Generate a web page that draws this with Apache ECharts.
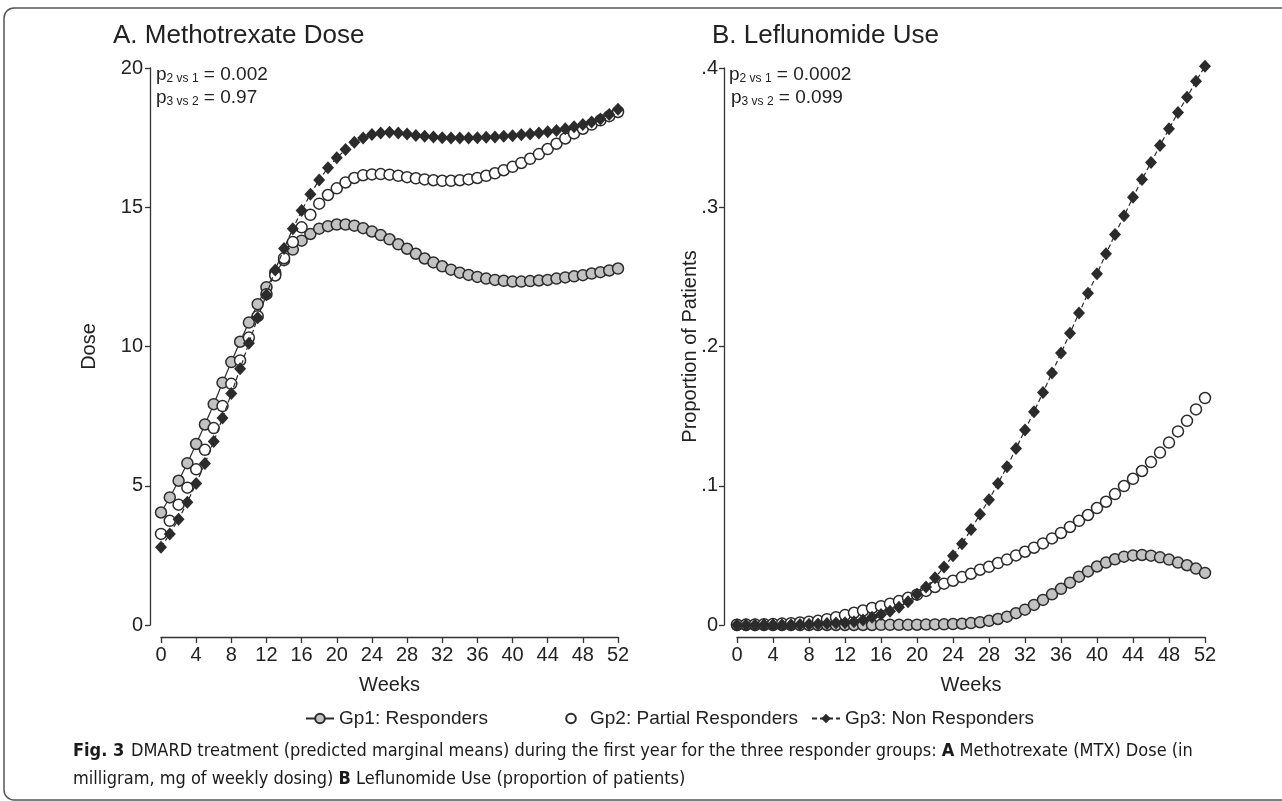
<!DOCTYPE html>
<html>
<head>
<meta charset="utf-8">
<title>DMARD treatment by responder group</title>
<script src="https://cdn.jsdelivr.net/npm/echarts@6/dist/echarts.min.js"></script>
<style>
  html, body { margin: 0; padding: 0; background: #fff; }
  #chart { width: 1282px; height: 801px; }
</style>
</head>
<body>
<div id="chart"></div>
<script>
  // weeks (x axis)
  const weeks = [0, 1, 2, 3, 4, 5, 6, 7, 8, 9, 10, 11, 12, 13, 14, 15, 16, 17, 18, 19, 20,
    21, 22, 23, 24, 25, 26, 27, 28, 29, 30, 31, 32, 33, 34, 35, 36, 37, 38, 39, 40,
    41, 42, 43, 44, 45, 46, 47, 48, 49, 50, 51, 52];

  // A. Methotrexate dose (mg)
  const mtxGp1 = [4.04, 4.58, 5.18, 5.81, 6.50, 7.20, 7.93, 8.70, 9.44, 10.17, 10.86,
    11.52, 12.13, 12.63, 13.10, 13.48, 13.80, 14.04, 14.23, 14.32, 14.38,
    14.38, 14.34, 14.25, 14.13, 14.00, 13.85, 13.67, 13.51, 13.33, 13.16,
    13.02, 12.88, 12.76, 12.65, 12.57, 12.50, 12.44, 12.39, 12.36, 12.33,
    12.33, 12.35, 12.37, 12.39, 12.44, 12.48, 12.52, 12.56, 12.62, 12.67, 12.73, 12.80];
  const mtxGp2 = [3.27, 3.74, 4.32, 4.93, 5.59, 6.29, 7.07, 7.86, 8.66, 9.50, 10.32,
    11.09, 11.88, 12.55, 13.17, 13.75, 14.28, 14.73, 15.13, 15.44, 15.68,
    15.89, 16.05, 16.15, 16.18, 16.19, 16.17, 16.13, 16.08, 16.04, 16.00,
    15.97, 15.95, 15.95, 15.97, 16.00, 16.05, 16.13, 16.22, 16.33, 16.45,
    16.59, 16.74, 16.91, 17.09, 17.28, 17.47, 17.65, 17.82, 17.97, 18.12, 18.27, 18.42];
  const mtxGp3 = [2.79, 3.27, 3.80, 4.41, 5.08, 5.80, 6.59, 7.43, 8.31, 9.20, 10.12,
    11.03, 11.86, 12.75, 13.52, 14.23, 14.88, 15.47, 15.98, 16.42, 16.78,
    17.07, 17.33, 17.49, 17.61, 17.67, 17.69, 17.67, 17.63, 17.58, 17.55,
    17.52, 17.50, 17.49, 17.49, 17.49, 17.50, 17.51, 17.52, 17.55, 17.57,
    17.60, 17.63, 17.67, 17.71, 17.76, 17.82, 17.89, 17.97, 18.06, 18.17, 18.33, 18.52];

  // B. Leflunomide use (proportion of patients)
  const lefGp1 = [0.0000, 0.0000, 0.0000, 0.0000, 0.0000, 0.0000, 0.0000, 0.0000, 0.0000, 0.0000, 0.0000,
    0.0000, 0.0000, 0.0000, 0.0000, 0.0000, 0.0001, 0.0001, 0.0001, 0.0001, 0.0002,
    0.0003, 0.0004, 0.0005, 0.0007, 0.0009, 0.0014, 0.0020, 0.0030, 0.0043, 0.0060,
    0.0085, 0.0110, 0.0144, 0.0180, 0.0220, 0.0260, 0.0304, 0.0347, 0.0385, 0.0420,
    0.0448, 0.0472, 0.0491, 0.0500, 0.0503, 0.0498, 0.0486, 0.0470, 0.0448, 0.0429, 0.0405, 0.0374];
  const lefGp2 = [0.0002, 0.0003, 0.0004, 0.0006, 0.0008, 0.0010, 0.0013, 0.0018, 0.0024, 0.0030, 0.0042,
    0.0055, 0.0071, 0.0088, 0.0104, 0.0122, 0.0135, 0.0153, 0.0172, 0.0195, 0.0218,
    0.0245, 0.0273, 0.0297, 0.0318, 0.0344, 0.0368, 0.0397, 0.0418, 0.0445, 0.0470,
    0.0500, 0.0526, 0.0555, 0.0586, 0.0622, 0.0661, 0.0704, 0.0748, 0.0790, 0.0840,
    0.0885, 0.0940, 0.0998, 0.1050, 0.1106, 0.1170, 0.1238, 0.1310, 0.1390, 0.1466, 0.1548, 0.1630];
  const lefGp3 = [0.0000, 0.0000, 0.0000, 0.0001, 0.0001, 0.0002, 0.0002, 0.0003, 0.0005, 0.0007, 0.0010,
    0.0014, 0.0017, 0.0024, 0.0036, 0.0055, 0.0076, 0.0098, 0.0127, 0.0167, 0.0220,
    0.0272, 0.0340, 0.0416, 0.0498, 0.0584, 0.0685, 0.0796, 0.0900, 0.1017, 0.1137,
    0.1267, 0.1400, 0.1532, 0.1670, 0.1810, 0.1953, 0.2096, 0.2240, 0.2382, 0.2522,
    0.2666, 0.2804, 0.2939, 0.3071, 0.3200, 0.3321, 0.3443, 0.3563, 0.3680, 0.3790, 0.3905, 0.4013];

  const groupNames = ['Gp1: Responders', 'Gp2: Partial Responders', 'Gp3: Non Responders'];
  const lefTickLabels = ['0', '.1', '.2', '.3', '.4'];

  const FONT = '"Liberation Sans", Arial, sans-serif';
  const NARROW = '"Liberation Sans Narrow", "DejaVu Sans Condensed", sans-serif';
  const DARK = '#2b2b2b';
  const INK = '#222';

  let myChart = echarts.init(document.getElementById('chart'));

  function pairs(ys) {
    return weeks.map((w, i) => [w, ys[i]]);
  }

  // the three marker styles, used in both panels
  function groupSeries(name, ys, idx) {
    let s = {
      name: name,
      type: 'line',
      xAxisIndex: idx,
      yAxisIndex: idx,
      data: pairs(ys),
      clip: false,
      showSymbol: true,
      z: 2
    };
    if (name === groupNames[0]) {
      s.symbol = 'circle';
      s.symbolSize = 11;
      s.lineStyle = {color: DARK, width: 1.2};
      s.itemStyle = {color: '#c2c2c2', borderColor: DARK, borderWidth: 1.5};
    } else if (name === groupNames[1]) {
      s.symbol = 'circle';
      s.symbolSize = 11;
      s.lineStyle = {color: DARK, width: 0, opacity: 0};
      s.itemStyle = {color: '#fff', borderColor: DARK, borderWidth: 1.5};
      s.z = 3;
    } else {
      s.symbol = 'diamond';
      s.symbolSize = [12, 13];
      s.lineStyle = {color: DARK, width: 1.2, type: [5, 3]};
      s.itemStyle = {color: DARK, borderWidth: 0};
      s.z = 4;
    }
    return s;
  }

  function xAxisFor(idx) {
    return {
      gridIndex: idx,
      type: 'value',
      min: 0,
      max: 52,
      interval: 4,
      offset: 12,
      axisLine: {show: true, onZero: false, lineStyle: {color: '#333', width: 1.3}},
      axisTick: {show: true, length: 6, lineStyle: {color: '#333', width: 1.3}},
      axisLabel: {fontSize: 20, color: INK, margin: 8, fontFamily: FONT},
      splitLine: {show: false},
      name: 'Weeks',
      nameLocation: 'middle',
      nameGap: 38,
      nameTextStyle: {fontSize: 20, color: INK, fontFamily: FONT}
    };
  }

  function legendFor(name, x) {
    return {
      data: [name],
      top: 704,
      left: x,
      itemWidth: 28,
      itemHeight: 12,
      itemGap: 0,
      textStyle: {fontSize: 19, color: INK, fontFamily: FONT}
    };
  }

  function pText(x, y, sub, val) {
    return {
      type: 'text',
      left: x,
      top: y,
      style: {
        text: '{p|p}{s|' + sub + '}{p| = ' + val + '}',
        rich: {
          p: {fontSize: 19, fontFamily: FONT, fill: INK, lineHeight: 20},
          s: {fontSize: 12, fontFamily: FONT, fill: INK, lineHeight: 12, verticalAlign: 'bottom'}
        }
      }
    };
  }

  myChart.setOption({
    animation: false,
    backgroundColor: '#fff',
    textStyle: {fontFamily: FONT},
    title: [
      {text: 'A. Methotrexate Dose', left: 108, top: 18,
        textStyle: {fontSize: 26, fontWeight: 'normal', color: INK, fontFamily: FONT}},
      {text: 'B. Leflunomide Use', left: 707, top: 18,
        textStyle: {fontSize: 26, fontWeight: 'normal', color: INK, fontFamily: FONT}}
    ],
    legend: [
      legendFor(groupNames[0], 300),
      legendFor(groupNames[1], 552),
      legendFor(groupNames[2], 806)
    ],
    grid: [
      {left: 161, top: 68, width: 457, height: 557, outerBoundsMode: 'none'},
      {left: 737, top: 68, width: 468, height: 557, outerBoundsMode: 'none'}
    ],
    xAxis: [xAxisFor(0), xAxisFor(1)],
    yAxis: [
      {
        gridIndex: 0,
        type: 'value',
        min: 0,
        max: 20,
        interval: 5,
        offset: 11,
        axisLine: {show: true, onZero: false, lineStyle: {color: '#333', width: 1.3}},
        axisTick: {show: true, length: 5, lineStyle: {color: '#333', width: 1.3}},
        axisLabel: {fontSize: 20, color: INK, margin: 7, fontFamily: FONT},
        splitLine: {show: false},
        name: 'Dose',
        nameLocation: 'middle',
        nameGap: 51,
        nameRotate: 90,
        nameMoveOverlap: false,
        nameTextStyle: {fontSize: 20, color: INK, fontFamily: FONT}
      },
      {
        gridIndex: 1,
        type: 'value',
        min: 0,
        max: 0.4,
        interval: 0.1,
        offset: 13,
        axisLine: {show: true, onZero: false, lineStyle: {color: '#333', width: 1.3}},
        axisTick: {show: true, length: 5, lineStyle: {color: '#333', width: 1.3}},
        axisLabel: {
          fontSize: 20, color: INK, margin: 6, fontFamily: FONT,
          formatter: function (v) { return lefTickLabels[Math.round(v * 10)]; }
        },
        splitLine: {show: false},
        name: 'Proportion of Patients',
        nameLocation: 'middle',
        nameGap: 24,
        nameRotate: 90,
        nameMoveOverlap: false,
        nameTextStyle: {fontSize: 20, color: INK, fontFamily: FONT}
      }
    ],
    series: [
      groupSeries(groupNames[0], mtxGp1, 0),
      groupSeries(groupNames[1], mtxGp2, 0),
      groupSeries(groupNames[2], mtxGp3, 0),
      groupSeries(groupNames[0], lefGp1, 1),
      groupSeries(groupNames[1], lefGp2, 1),
      groupSeries(groupNames[2], lefGp3, 1)
    ],
    graphic: [
      // figure frame
      {
        type: 'rect',
        shape: {x: 4, y: 8, width: 1300, height: 792, r: 10},
        style: {fill: 'none', stroke: '#555', lineWidth: 1.5},
        silent: true
      },
      pText(156, 65, '2 vs 1', '0.002'),
      pText(156, 88, '3 vs 2', '0.97'),
      pText(729, 65, '2 vs 1', '0.0002'),
      pText(731, 88, '3 vs 2', '0.099'),
      {
        type: 'text',
        left: 73,
        top: 742,
        style: {
          text: '{b|Fig. 3}  {n|DMARD treatment (predicted marginal means) during the first year for the three responder groups: }{b|A}{n| Methotrexate (MTX) Dose (in}\n' +
            '{n|milligram, mg of weekly dosing) }{b|B}{n| Leflunomide Use (proportion of patients)}',
          rich: {
            b: {fontSize: 18, fontWeight: 'bold', fontFamily: NARROW, fill: '#1a1a1a', lineHeight: 28},
            n: {fontSize: 18, fontFamily: NARROW, fill: '#1a1a1a', lineHeight: 28}
          }
        }
      }
    ]
  });
</script>
</body>
</html>
